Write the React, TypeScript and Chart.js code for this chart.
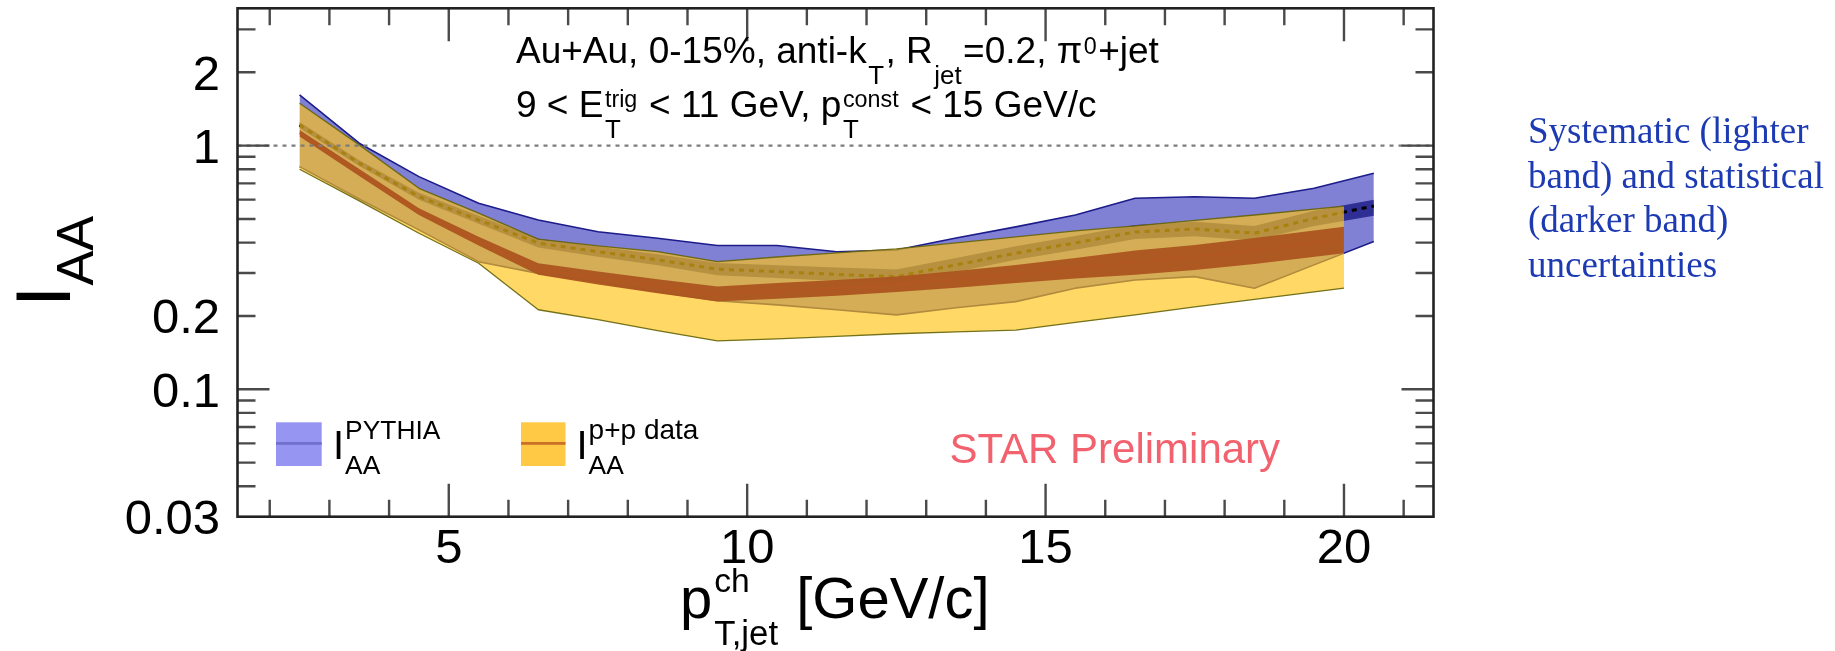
import React, { useEffect, useRef } from 'react';
import { Chart, registerables } from 'chart.js';

Chart.register(...registerables);

// ---- I_AA with PYTHIA reference (blue) ----
const pythiaX = [2.5, 3.5, 4.5, 5.5, 6.5, 7.5, 8.5, 9.5, 10.5, 11.5, 12.5, 13.5, 14.5, 15.5, 16.5, 17.5, 18.5, 19.5, 20.5];
const pythiaCentral = [1.216, 0.847, 0.618, 0.495, 0.398, 0.367, 0.34, 0.311, 0.304, 0.296, 0.29, 0.324, 0.362, 0.399, 0.442, 0.455, 0.437, 0.503, 0.565];
const pythiaStatHigh = [1.25, 0.87, 0.64, 0.515, 0.415, 0.385, 0.358, 0.33, 0.323, 0.316, 0.31, 0.346, 0.386, 0.426, 0.472, 0.487, 0.468, 0.54, 0.6];
const pythiaStatLow = [1.18, 0.825, 0.6, 0.478, 0.382, 0.35, 0.323, 0.294, 0.286, 0.278, 0.272, 0.303, 0.34, 0.374, 0.414, 0.425, 0.408, 0.468, 0.515];
const pythiaSysHigh = [1.615, 1.023, 0.746, 0.58, 0.495, 0.443, 0.417, 0.389, 0.389, 0.367, 0.373, 0.418, 0.464, 0.519, 0.608, 0.617, 0.608, 0.668, 0.77];
const pythiaSysLow = [0.82, 0.604, 0.451, 0.334, 0.299, 0.276, 0.251, 0.231, 0.222, 0.212, 0.202, 0.216, 0.229, 0.26, 0.281, 0.29, 0.26, 0.324, 0.404];

// ---- I_AA with p+p data reference (yellow / orange) ----
const ppX = [2.5, 3.5, 4.5, 5.5, 6.5, 7.5, 8.5, 9.5, 10.5, 11.5, 12.5, 13.5, 14.5, 15.5, 16.5, 17.5, 18.5, 20];
const ppCentral = [1.125, 0.775, 0.535, 0.405, 0.311, 0.286, 0.265, 0.246, 0.253, 0.26, 0.27, 0.283, 0.297, 0.315, 0.333, 0.35, 0.372, 0.41];
const ppStatHigh = [1.16, 0.802, 0.553, 0.423, 0.329, 0.304, 0.283, 0.264, 0.273, 0.281, 0.29, 0.306, 0.324, 0.346, 0.371, 0.391, 0.418, 0.465];
const ppStatLow = [1.089, 0.751, 0.519, 0.389, 0.295, 0.269, 0.248, 0.229, 0.235, 0.242, 0.251, 0.261, 0.273, 0.285, 0.295, 0.309, 0.327, 0.362];
const ppSysHigh = [1.493, 1.007, 0.668, 0.528, 0.413, 0.388, 0.367, 0.334, 0.349, 0.363, 0.377, 0.399, 0.422, 0.447, 0.468, 0.493, 0.519, 0.564];
const ppSysLow = [0.8, 0.593, 0.437, 0.329, 0.212, 0.193, 0.174, 0.158, 0.161, 0.165, 0.169, 0.172, 0.175, 0.188, 0.202, 0.218, 0.234, 0.26];

// ---- axes ----
const xMin = 1.46;
const xMax = 21.5;
const yMin = 0.03;
const yMax = 3.66;
const xMajorTicks = [5, 10, 15, 20];
const xMinorTicks = [2, 3, 4, 6, 7, 8, 9, 11, 12, 13, 14, 16, 17, 18, 19, 21];
const yDecadeTicks = [1, 0.1];
const yMinorTicks = [3, 2, 0.9, 0.8, 0.7, 0.6, 0.5, 0.4, 0.3, 0.2, 0.09, 0.08, 0.07, 0.06, 0.05, 0.04];
const yTickLabels = [2, 1, 0.2, 0.1, 0.03];
const xTickLabels = [5, 10, 15, 20];

const noteLines = ['Systematic (lighter', 'band) and statistical', '(darker band)', 'uncertainties'];

const SANS = '"Liberation Sans", Arial, Helvetica, sans-serif';
const SERIF = '"Liberation Serif", "Times New Roman", serif';

type Seg = { t?: string; sub?: string; sup?: string };
type RichOpt = { subS: number; supS: number; subDy: number; supDy: number; gap?: number };

function drawRich(ctx: CanvasRenderingContext2D, x: number, y: number, segs: Seg[], F: number, o: RichOpt) {
  let cx = x;
  for (const s of segs) {
    if (s.t !== undefined) {
      ctx.font = `${F}px ${SANS}`;
      ctx.fillText(s.t, cx, y);
      cx += ctx.measureText(s.t).width;
    } else {
      let w = 0;
      const g = o.gap ?? 0;
      if (s.sup) {
        ctx.font = `${F * o.supS}px ${SANS}`;
        ctx.fillText(s.sup, cx + g, y - F * o.supDy);
        w = Math.max(w, ctx.measureText(s.sup).width);
      }
      if (s.sub) {
        ctx.font = `${F * o.subS}px ${SANS}`;
        ctx.fillText(s.sub, cx + g, y + F * o.subDy);
        w = Math.max(w, ctx.measureText(s.sub).width);
      }
      cx += w + 2 * g;
    }
  }
  return cx - x;
}

const pts = (xs: number[], ys: number[]) => xs.map((x, i) => ({ x, y: ys[i] }));

const decor = {
  id: 'decor',
  afterDatasetsDraw(chart: any) {
    const { ctx, chartArea: a, scales } = chart;
    const y1 = scales.y.getPixelForValue(1);
    ctx.save();
    ctx.strokeStyle = '#7c7c7c';
    ctx.lineWidth = 2.2;
    ctx.setLineDash([4, 5]);
    ctx.beginPath();
    ctx.moveTo(a.left, y1);
    ctx.lineTo(a.right, y1);
    ctx.stroke();
    ctx.restore();
  },
  afterDraw(chart: any) {
    const { ctx, chartArea: a, scales } = chart;
    const xs = scales.x;
    const ys = scales.y;
    ctx.save();
    ctx.setLineDash([]);
    // ticks
    ctx.strokeStyle = '#4a4a4a';
    ctx.lineWidth = 2.4;
    ctx.beginPath();
    const xt = (v: number, len: number) => {
      const px = xs.getPixelForValue(v);
      ctx.moveTo(px, a.bottom);
      ctx.lineTo(px, a.bottom - len);
      ctx.moveTo(px, a.top);
      ctx.lineTo(px, a.top + len);
    };
    xMajorTicks.forEach((v) => xt(v, 33));
    xMinorTicks.forEach((v) => xt(v, 17));
    const yt = (v: number, len: number) => {
      const py = ys.getPixelForValue(v);
      ctx.moveTo(a.left, py);
      ctx.lineTo(a.left + len, py);
      ctx.moveTo(a.right, py);
      ctx.lineTo(a.right - len, py);
    };
    yDecadeTicks.forEach((v) => yt(v, 32));
    yMinorTicks.forEach((v) => yt(v, 18));
    ctx.stroke();
    // frame
    ctx.strokeStyle = '#222';
    ctx.lineWidth = 2.6;
    ctx.strokeRect(a.left, a.top, a.right - a.left, a.bottom - a.top);

    // tick labels
    ctx.fillStyle = '#000';
    ctx.font = `49px ${SANS}`;
    ctx.textBaseline = 'alphabetic';
    ctx.textAlign = 'center';
    xTickLabels.forEach((v) => ctx.fillText(String(v), xs.getPixelForValue(v), 563));
    ctx.textAlign = 'right';
    yTickLabels.forEach((v) => ctx.fillText(String(v), 220, ys.getPixelForValue(v) + 17.5));
    ctx.textAlign = 'left';

    // axis titles
    drawRich(ctx, 680, 618, [{ t: 'p' }, { sub: 'T,jet', sup: 'ch' }, { t: ' [GeV/c]' }], 58, {
      subS: 0.6, supS: 0.58, subDy: 0.46, supDy: 0.44, gap: 2,
    });
    ctx.save();
    ctx.translate(70.4, 307);
    ctx.rotate(-Math.PI / 2);
    drawRich(ctx, 0, 0, [{ t: 'I' }, { sub: 'AA' }], 77, { subS: 0.68, supS: 0.68, subDy: 0.29, supDy: 0.4 });
    ctx.restore();

    // header text
    const hopt = { subS: 0.7, supS: 0.63, subDy: 0.57, supDy: 0.25, gap: 1.5 };
    drawRich(ctx, 516, 63.3, [
      { t: 'Au+Au, 0-15%, anti-k' }, { sub: 'T' }, { t: ', R' }, { sub: 'jet' }, { t: '=0.2, \u03c0' }, { sup: '0' }, { t: '+jet' },
    ], 37, hopt);
    drawRich(ctx, 516, 116.7, [
      { t: '9 < E' }, { sub: 'T', sup: 'trig' }, { t: ' < 11 GeV, p' }, { sub: 'T', sup: 'const' }, { t: ' < 15 GeV/c' },
    ], 37, hopt);

    // legend
    const lopt = { subS: 0.66, supS: 0.66, subDy: 0.375, supDy: 0.5, gap: 1 };
    ctx.fillStyle = 'rgb(150,150,242)';
    ctx.fillRect(276, 422.3, 45.7, 43.7);
    ctx.fillStyle = 'rgb(112,112,206)';
    ctx.fillRect(276, 442, 45.7, 2.8);
    ctx.fillStyle = 'rgb(255,201,70)';
    ctx.fillRect(521, 422.3, 44.5, 43.7);
    ctx.fillStyle = 'rgb(204,112,40)';
    ctx.fillRect(521, 442, 44.5, 2.8);
    ctx.fillStyle = '#000';
    drawRich(ctx, 333, 458.5, [{ t: 'I' }, { sub: 'AA', sup: 'PYTHIA' }], 40, lopt);
    drawRich(ctx, 576.5, 458.5, [{ t: 'I' }, { sub: 'AA', sup: 'p+p data' }], 40, { ...lopt, supS: 0.7 });

    // STAR Preliminary
    ctx.fillStyle = 'rgb(242,98,110)';
    ctx.font = `42px ${SANS}`;
    ctx.fillText('STAR Preliminary', 949.5, 463.3);

    // side note
    ctx.fillStyle = 'rgb(28,58,178)';
    ctx.font = `37px ${SERIF}`;
    noteLines.forEach((l, i) => ctx.fillText(l, 1528, 143.3 + i * 44.5));
    ctx.restore();
  },
};

export default function App() {
  const ref = useRef<HTMLCanvasElement | null>(null);
  useEffect(() => {
    document.body.style.margin = '0';
    const canvas = ref.current;
    if (!canvas) return;
    const blueSys = 'rgb(128,128,212)';
    const blueEdge = 'rgb(28,28,138)';
    const blueStat = 'rgb(46,46,148)';
    const yellowSys = 'rgba(255,196,22,0.66)';
    const yellowEdge = 'rgba(100,100,10,0.9)';
    const orangeStat = 'rgba(172,84,32,0.95)';
    const base = { pointRadius: 0, pointHoverRadius: 0, tension: 0, borderJoinStyle: 'round' as const };
    const chart = new Chart(canvas, {
      type: 'line',
      data: {
        datasets: [
          { ...base, label: 'pythia sys low', data: pts(pythiaX, pythiaSysLow), borderColor: blueEdge, borderWidth: 1.6, fill: false, order: 19 },
          { ...base, label: 'pythia sys high', data: pts(pythiaX, pythiaSysHigh), borderColor: blueEdge, borderWidth: 1.6, backgroundColor: blueSys, fill: '-1', order: 20 },
          { ...base, label: 'pythia stat low', data: pts(pythiaX, pythiaStatLow), borderWidth: 0, borderColor: 'rgba(0,0,0,0)', fill: false, order: 17 },
          { ...base, label: 'pythia stat high', data: pts(pythiaX, pythiaStatHigh), borderWidth: 0, borderColor: 'rgba(0,0,0,0)', backgroundColor: blueStat, fill: '-1', order: 18 },
          { ...base, label: 'pythia central', data: pts(pythiaX, pythiaCentral), borderColor: '#000', borderWidth: 3, borderDash: [5, 5], fill: false, order: 16 },
          { ...base, label: 'pp sys low', data: pts(ppX, ppSysLow), borderColor: yellowEdge, borderWidth: 1.3, fill: false, order: 14 },
          { ...base, label: 'pp sys high', data: pts(ppX, ppSysHigh), borderColor: yellowEdge, borderWidth: 1.3, backgroundColor: yellowSys, fill: '-1', order: 15 },
          { ...base, label: 'pp stat low', data: pts(ppX, ppStatLow), borderWidth: 0, borderColor: 'rgba(0,0,0,0)', fill: false, order: 12 },
          { ...base, label: 'pp stat high', data: pts(ppX, ppStatHigh), borderWidth: 0, borderColor: 'rgba(0,0,0,0)', backgroundColor: orangeStat, fill: '-1', order: 13 },
          { ...base, label: 'pp central', data: pts(ppX, ppCentral), borderColor: 'rgb(180,88,34)', borderWidth: 1.5, fill: false, order: 11 },
        ],
      },
      options: {
        responsive: false,
        animation: false,
        devicePixelRatio: 1,
        events: [],
        layout: { padding: { left: 237.5, right: 401.5, top: 8.3, bottom: 134.3 } },
        plugins: { legend: { display: false }, tooltip: { enabled: false }, title: { display: false } },
        scales: {
          x: { type: 'linear', min: xMin, max: xMax, display: false },
          y: { type: 'logarithmic', min: yMin, max: yMax, display: false },
        },
      },
      plugins: [decor],
    });
    return () => chart.destroy();
  }, []);
  return (
    <div style={{ position: 'absolute', left: 0, top: 0, width: 1835, height: 651, background: '#fff' }}>
      <canvas ref={ref} width={1835} height={651} style={{ display: 'block', width: 1835, height: 651 }} />
    </div>
  );
}
